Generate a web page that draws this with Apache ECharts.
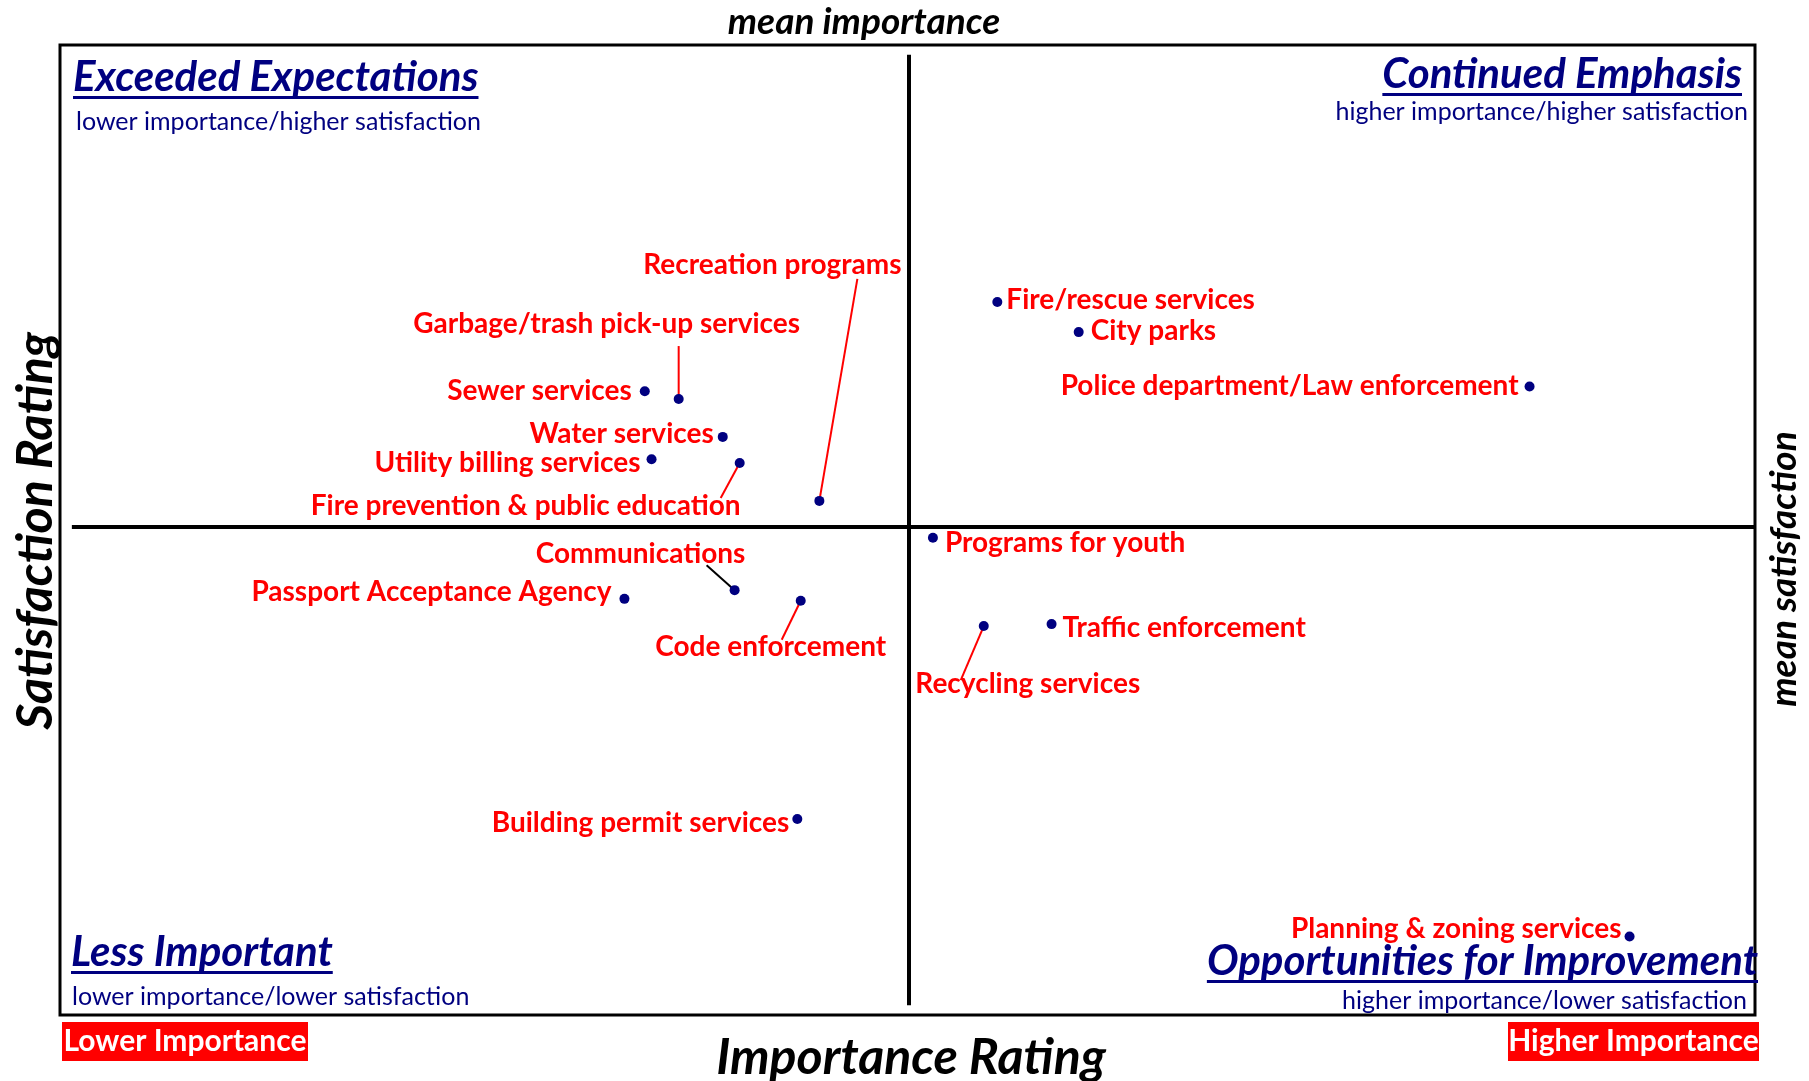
<!DOCTYPE html>
<html>
<head>
<meta charset="utf-8">
<title>Importance-Satisfaction Matrix</title>
<script src="https://cdn.jsdelivr.net/npm/echarts@6.0.0/dist/echarts.min.js"></script>
<style>
html, body { margin: 0; padding: 0; background: #fff; }
#main { width: 1809px; height: 1081px; }
</style>
</head>
<body>
<div id="main"></div>
<script>
// services rated in the survey (importance / satisfaction index, 0-100)
var services = [
	'Recreation programs',
	'Garbage/trash pick-up services',
	'Sewer services',
	'Water services',
	'Utility billing services',
	'Fire prevention & public education',
	'Fire/rescue services',
	'City parks',
	'Police department/Law enforcement',
	'Programs for youth',
	'Communications',
	'Passport Acceptance Agency',
	'Code enforcement',
	'Traffic enforcement',
	'Recycling services',
	'Building permit services',
	'Planning & zoning services'
];
var importance = [44.8, 36.5, 34.5, 39.1, 34.9, 40.1, 55.3, 60.1, 86.7, 51.5, 39.8, 33.3, 43.7, 58.5, 54.5, 43.5, 92.6];
var satisfaction = [53.0, 63.5, 64.3, 59.6, 57.3, 56.9, 73.5, 70.4, 64.8, 49.2, 43.8, 42.9, 42.7, 40.3, 40.1, 20.2, 8.1];
var meanImportance = 50.1;
var meanSatisfaction = 50.3;

// where each label sits relative to its dot (pixels); lx/ly = label end of the leader line
var labelSpots = [
	{ pos: 'inside', dist: 0, dx: -47, dy: -236, line: '#FF0000', lx: 38, ly: -222 },
	{ pos: 'inside', dist: 0, dx: -72, dy: -75, line: '#FF0000', lx: 0, ly: -53 },
	{ pos: 'left', dist: 8, dx: 0, dy: 0 },
	{ pos: 'left', dist: 4, dx: 0, dy: -3 },
	{ pos: 'left', dist: 6, dx: 0, dy: 4 },
	{ pos: 'inside', dist: 0, dx: -214, dy: 43, line: '#FF0000', lx: -19, ly: 35 },
	{ pos: 'right', dist: 4, dx: 0, dy: -2 },
	{ pos: 'right', dist: 7, dx: 0, dy: -1 },
	{ pos: 'left', dist: 6, dx: 0, dy: 0 },
	{ pos: 'right', dist: 7, dx: 0, dy: 5 },
	{ pos: 'inside', dist: 0, dx: -94, dy: -36, line: '#000000', lx: -28, ly: -25 },
	{ pos: 'left', dist: 8, dx: 0, dy: -7 },
	{ pos: 'inside', dist: 0, dx: -30, dy: 46, line: '#FF0000', lx: -19, ly: 39 },
	{ pos: 'right', dist: 6, dx: 0, dy: 4 },
	{ pos: 'inside', dist: 0, dx: 44, dy: 58, line: '#FF0000', lx: -23, ly: 54 },
	{ pos: 'left', dist: 3, dx: 0, dy: 4 },
	{ pos: 'left', dist: 3, dx: 0, dy: -7 }
];

var FONT = 'Lato, "Open Sans", sans-serif';
var NAVY = '#000080';
var RED = '#FF0000';

function textWidth(str, font) {
	var ctx = document.createElement('canvas').getContext('2d');
	ctx.font = font;
	return ctx.measureText(str).width;
}

// underlined quadrant heading
function heading(str, x, y, align) {
	var font = 'italic bold 42px ' + FONT;
	var w = textWidth(str, font);
	var left = align === 'right' ? x - w : x;
	return [
		{ type: 'text', x: x, y: y, style: { text: str, font: font, fill: NAVY, textAlign: align, textVerticalAlign: 'middle' } },
		{ type: 'rect', shape: { x: left, y: y + 19, width: w, height: 3 }, style: { fill: NAVY } }
	];
}

function note(str, x, y, align) {
	return { type: 'text', x: x, y: y, style: { text: str, font: '25px ' + FONT, fill: NAVY, textAlign: align, textVerticalAlign: 'middle' } };
}

function axisTitle(str, x, y, size, rotated) {
	return {
		type: 'text', x: x, y: y, rotation: rotated ? Math.PI / 2 : 0,
		style: { text: str, font: 'italic bold ' + size + 'px ' + FONT, fill: '#000', textAlign: 'center', textVerticalAlign: 'middle' }
	};
}

function redTag(str, x, y, w, h) {
	return [
		{ type: 'rect', shape: { x: x, y: y, width: w, height: h }, style: { fill: RED } },
		{ type: 'text', x: x + w / 2, y: y + h / 2, style: { text: str, font: 'bold 30px ' + FONT, fill: '#fff', textAlign: 'center', textVerticalAlign: 'middle' } }
	];
}

var points = services.map(function (name, i) {
	var spot = labelSpots[i];
	return {
		name: name,
		value: [importance[i], satisfaction[i]],
		label: { position: spot.pos, distance: spot.dist }
	};
});

// leader lines only for the labels that were pulled away from their dot
var leaders = [];
services.forEach(function (name, i) {
	if (labelSpots[i].line) {
		leaders.push([importance[i], satisfaction[i], i]);
	}
});

var graphics = []
	.concat(heading('Exceeded Expectations', 73, 77, 'left'))
	.concat(heading('Continued Emphasis', 1742, 74, 'right'))
	.concat(heading('Less Important', 71, 952, 'left'))
	.concat(heading('Opportunities for Improvement', 1758, 961, 'right'))
	.concat([
		note('lower importance/higher satisfaction', 76, 122, 'left'),
		note('higher importance/higher satisfaction', 1748, 112, 'right'),
		note('lower importance/lower satisfaction', 72, 997, 'left'),
		note('higher importance/lower satisfaction', 1747, 1001, 'right'),
		axisTitle('mean importance', 864, 22, 37, false),
		axisTitle('mean satisfaction', 1784, 569, 37, true),
		axisTitle('Satisfaction Rating', 36, 531, 50, true),
		axisTitle('Importance Rating', 911, 1058, 50, false)
	])
	.concat(redTag('Lower Importance', 62, 1022, 246, 39))
	.concat(redTag('Higher Importance', 1508, 1022, 251, 39));

var myChart = echarts.init(document.getElementById('main'));
var option = {
	animation: false,
	backgroundColor: '#fff',
	grid: {
		show: true,
		left: 60,
		top: 45,
		right: 54,
		bottom: 66,
		borderColor: '#000',
		borderWidth: 3
	},
	xAxis: { type: 'value', min: 0, max: 100, show: false },
	yAxis: { type: 'value', min: 0, max: 100, show: false },
	series: [{
		type: 'custom',
		silent: true,
		z: 1,
		data: leaders,
		renderItem: function (params, api) {
			var s = labelSpots[api.value(2)];
			var p = api.coord([api.value(0), api.value(1)]);
			return {
				type: 'line',
				shape: { x1: p[0] + s.lx, y1: p[1] + s.ly, x2: p[0], y2: p[1] },
				style: { stroke: s.line, lineWidth: 2 }
			};
		}
	}, {
		type: 'scatter',
		z: 3,
		symbolSize: 10,
		itemStyle: { color: NAVY, opacity: 1 },
		label: {
			show: true,
			formatter: '{b}',
			color: RED,
			fontFamily: FONT,
			fontWeight: 'bold',
			fontSize: 28
		},
		labelLayout: function (p) {
			var s = labelSpots[p.dataIndex];
			return { dx: s.dx, dy: s.dy };
		},
		markLine: {
			silent: true,
			symbol: 'none',
			label: { show: false },
			lineStyle: { color: '#000', width: 4, type: 'solid' },
			data: [
				[{ coord: [meanImportance, 1] }, { coord: [meanImportance, 99] }],
				[{ coord: [0.7, meanSatisfaction] }, { coord: [100, meanSatisfaction] }]
			]
		},
		data: points
	}],
	graphic: graphics
};
myChart.setOption(option);
</script>
</body>
</html>
